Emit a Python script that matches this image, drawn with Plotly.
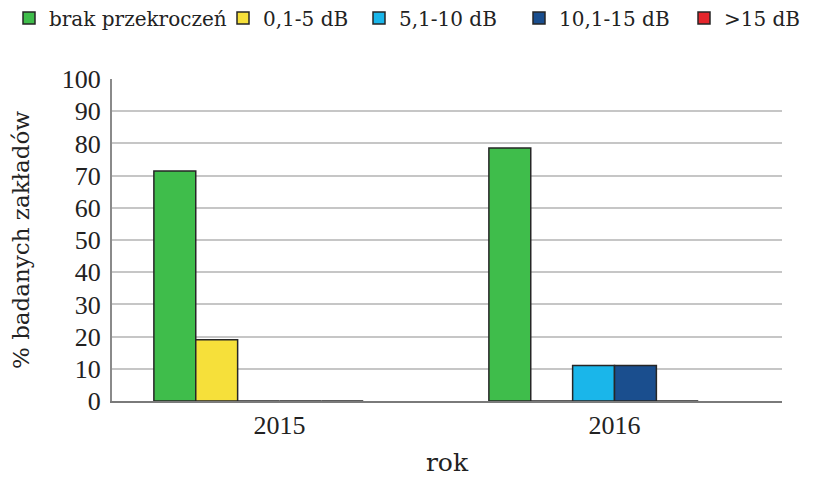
import plotly.graph_objects as go

years = ["2015", "2016"]
series_names = ["brak przekroczeń", "0,1-5 dB", "5,1-10 dB", "10,1-15 dB", ">15 dB"]
brak = [71.4, 78.6]
db_0_5 = [19.0, 0]
db_5_10 = [0, 11.0]
db_10_15 = [0, 11.0]
db_15 = [0, 0]
y_ticks = list(range(0, 101, 10))

colors = ["#3fbd4b", "#f6e03a", "#1ab6ea", "#1a4e8e", "#e5262c"]
values = [brak, db_0_5, db_5_10, db_10_15, db_15]

W, H = 806, 469
TEXT_FONT = "DejaVu Serif"
NUM_FONT = "Liberation Serif"

legend_ids = ["legend", "legend2", "legend3", "legend4", "legend5"]
legend_x_px = [1, 215, 351, 511, 676]

fig = go.Figure()
for name, vals, col, lg in zip(series_names, values, colors, legend_ids):
    fig.add_trace(go.Bar(
        x=years, y=vals, name=name, legend=lg,
        marker=dict(color=col, line=dict(color="#262626", width=1.5)),
    ))
# empty slot series (keeps the group spacing of the original chart)
fig.add_trace(go.Bar(x=years, y=[None, None], showlegend=False,
                     marker=dict(color="rgba(0,0,0,0)"), hoverinfo="skip"))

legend_common = dict(orientation="h", xref="container", yref="container",
                     xanchor="left", yanchor="middle", y=1 - 10 / H,
                     font=dict(size=20, family=TEXT_FONT, color="#222"),
                     itemwidth=30, bgcolor="rgba(0,0,0,0)")
legend_layout = {lg: dict(x=px / W, **legend_common) for lg, px in zip(legend_ids, legend_x_px)}

fig.update_layout(
    width=W, height=H,
    margin=dict(l=104, r=32, t=71, b=76, autoexpand=False),
    paper_bgcolor="white", plot_bgcolor="white",
    barmode="group", bargap=0.25, bargroupgap=0,
    font=dict(family=TEXT_FONT, size=24, color="#222"),
    showlegend=True,
    **legend_layout,
)
fig.update_xaxes(
    showline=True, linecolor="#7a7a7a", linewidth=2,
    showgrid=False, ticks="", ticklabelstandoff=0,
    tickfont=dict(size=26, family=NUM_FONT, color="#222"),
    title=dict(text="rok", font=dict(size=25, family=TEXT_FONT, color="#222"), standoff=20),
)
fig.update_yaxes(
    range=[0, 100], tickvals=y_ticks, ticktext=[str(v) for v in y_ticks],
    showline=True, linecolor="#8a8a8a", linewidth=2,
    showgrid=True, gridcolor="#c6c6c6", gridwidth=1.6,
    zeroline=False, ticks="", ticklabelstandoff=4,
    tickfont=dict(size=26, family=NUM_FONT, color="#222"),
    title=dict(text="% badanych zakładów", font=dict(size=23, family=TEXT_FONT, color="#222"), standoff=31),
)

fig.write_html("out.html")
